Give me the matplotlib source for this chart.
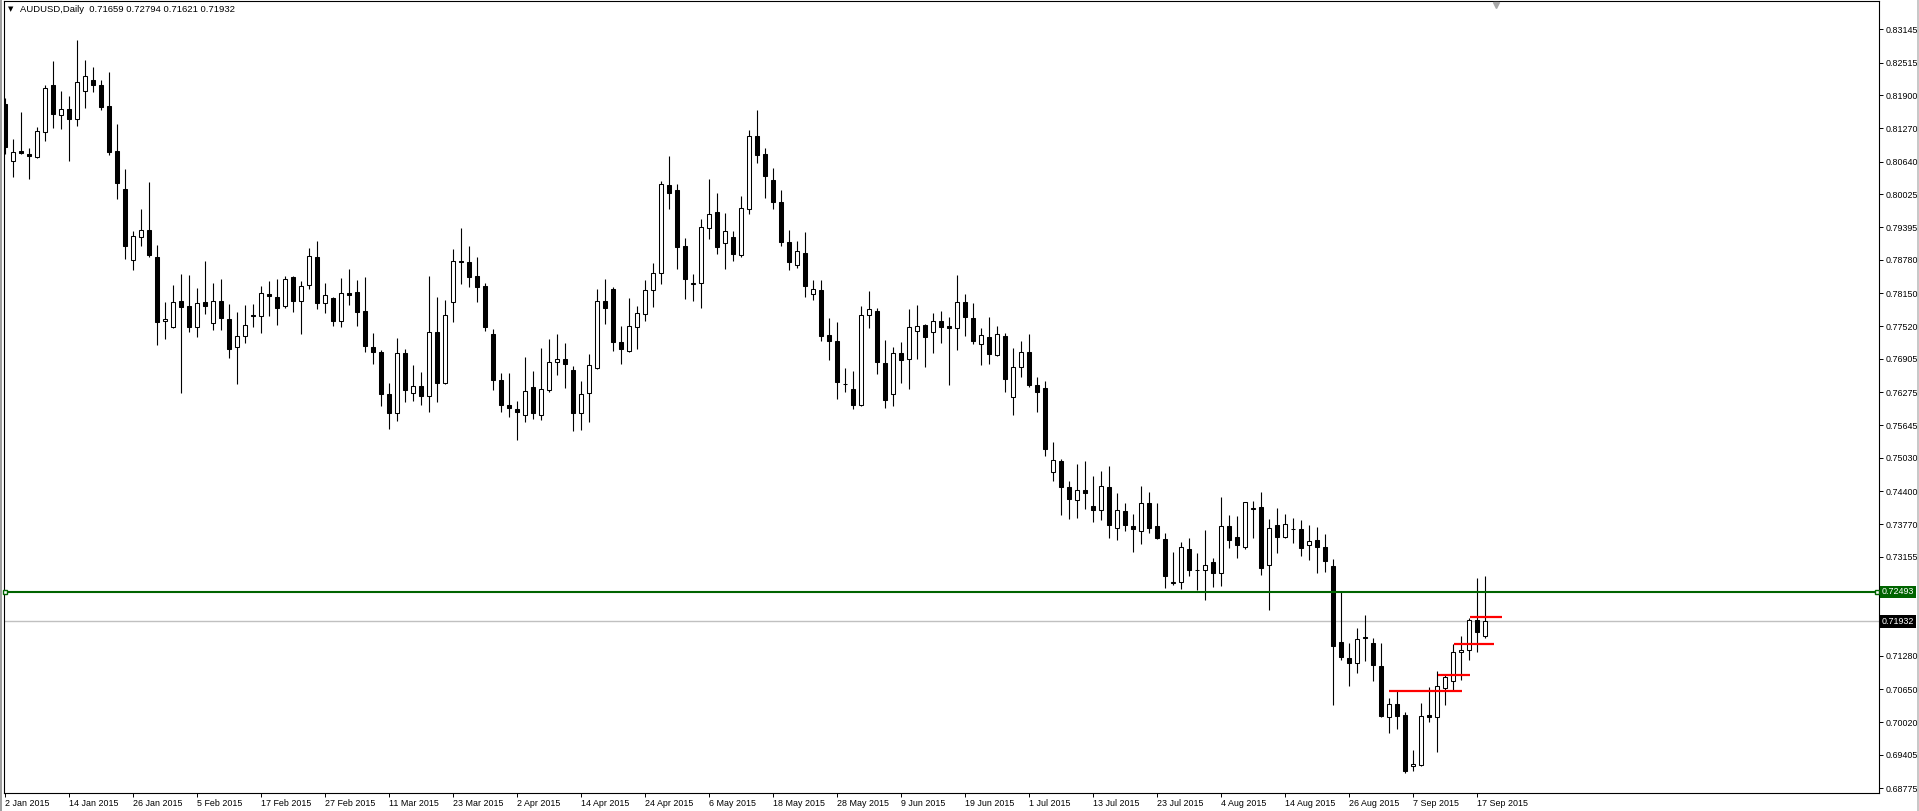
import matplotlib
matplotlib.use("Agg")
import matplotlib.pyplot as plt
from matplotlib.patches import Rectangle

plt.rcParams["font.family"] = ["Liberation Sans", "DejaVu Sans"]

# AUDUSD daily candles, 2 Jan 2015 .. 18 Sep 2015 (one value per trading day)
opens = [
    0.8173, 0.8065, 0.8084, 0.8079, 0.8073, 0.8121, 0.8209, 0.8153, 0.8163, 0.8145,
    0.8197, 0.8218, 0.8209, 0.8169, 0.8084, 0.8012, 0.7878, 0.7921, 0.7934, 0.7884,
    0.7762, 0.7751, 0.7800, 0.7791, 0.7750, 0.7798, 0.7758, 0.7800, 0.7766, 0.7712,
    0.7733, 0.7773, 0.7771, 0.7813, 0.7808, 0.7790, 0.7846, 0.7801, 0.7830, 0.7883,
    0.7797, 0.7806, 0.7763, 0.7815, 0.7817, 0.7781, 0.7713, 0.7704, 0.7624, 0.7587,
    0.7701, 0.7625, 0.7640, 0.7621, 0.7741, 0.7645, 0.7799, 0.7875, 0.7873, 0.7847,
    0.7828, 0.7737, 0.7650, 0.7604, 0.7595, 0.7584, 0.7637, 0.7584, 0.7631, 0.7684,
    0.7690, 0.7669, 0.7588, 0.7625, 0.7674, 0.7801, 0.7822, 0.7722, 0.7706, 0.7750,
    0.7775, 0.7820, 0.7854, 0.8020, 0.8010, 0.7904, 0.7832, 0.7834, 0.7938, 0.7968,
    0.7909, 0.7921, 0.7888, 0.7974, 0.8112, 0.8078, 0.8029, 0.7988, 0.7912, 0.7869,
    0.7891, 0.7814, 0.7821, 0.7735, 0.7724, 0.7642, 0.7633, 0.7604, 0.7773, 0.7781,
    0.7683, 0.7623, 0.7701, 0.7690, 0.7744, 0.7755, 0.7741, 0.7763, 0.7753, 0.7748,
    0.7798, 0.7767, 0.7719, 0.7732, 0.7697, 0.7734, 0.7619, 0.7676, 0.7703, 0.7641,
    0.7635, 0.7476, 0.7497, 0.7448, 0.7424, 0.7442, 0.7412, 0.7405, 0.7447, 0.7371,
    0.7402, 0.7374, 0.7364, 0.7418, 0.7373, 0.7349, 0.7266, 0.7267, 0.7330, 0.7290,
    0.7290, 0.7306, 0.7284, 0.7373, 0.7353, 0.7335, 0.7407, 0.7410, 0.7301, 0.7376,
    0.7354, 0.7368, 0.7369, 0.7337, 0.7347, 0.7334, 0.7298, 0.7155, 0.7124, 0.7114,
    0.7164, 0.7152, 0.7109, 0.7013, 0.7037, 0.7016, 0.6919, 0.6921, 0.7016, 0.7013,
    0.7068, 0.7080, 0.7135, 0.7140, 0.7195, 0.71659,
]
highs = [
    0.8184, 0.8107, 0.8158, 0.8090, 0.8130, 0.8209, 0.8255, 0.8198, 0.8188, 0.8294,
    0.8256, 0.8243, 0.8219, 0.8234, 0.8135, 0.8050, 0.7933, 0.7974, 0.8025, 0.7906,
    0.7798, 0.7830, 0.7851, 0.7849, 0.7825, 0.7876, 0.7834, 0.7842, 0.7795, 0.7779,
    0.7792, 0.7795, 0.7828, 0.7838, 0.7842, 0.7847, 0.7847, 0.7838, 0.7900, 0.7914,
    0.7834, 0.7808, 0.7844, 0.7861, 0.7840, 0.7846, 0.7739, 0.7707, 0.7645, 0.7730,
    0.7709, 0.7679, 0.7665, 0.7847, 0.7808, 0.7802, 0.7898, 0.7938, 0.7904, 0.7883,
    0.7834, 0.7747, 0.7664, 0.7664, 0.7611, 0.7694, 0.7667, 0.7711, 0.7728, 0.7738,
    0.7721, 0.7677, 0.7649, 0.7700, 0.7823, 0.7842, 0.7827, 0.7753, 0.7806, 0.7791,
    0.7840, 0.7872, 0.8027, 0.8075, 0.8022, 0.7919, 0.7851, 0.7955, 0.8031, 0.8005,
    0.7967, 0.7932, 0.7998, 0.8124, 0.8162, 0.8090, 0.8052, 0.8010, 0.7935, 0.7914,
    0.7931, 0.7840, 0.7840, 0.7768, 0.7760, 0.7673, 0.7667, 0.7791, 0.7819, 0.7787,
    0.7726, 0.7713, 0.7722, 0.7785, 0.7792, 0.7757, 0.7777, 0.7781, 0.7770, 0.7849,
    0.7813, 0.7796, 0.7749, 0.7770, 0.7753, 0.7739, 0.7711, 0.7724, 0.7737, 0.7656,
    0.7649, 0.7533, 0.7501, 0.7459, 0.7491, 0.7497, 0.7469, 0.7478, 0.7488, 0.7436,
    0.7418, 0.7397, 0.7450, 0.7438, 0.7418, 0.7361, 0.7325, 0.7344, 0.7352, 0.7323,
    0.7366, 0.7313, 0.7429, 0.7395, 0.7393, 0.7420, 0.7421, 0.7438, 0.7387, 0.7408,
    0.7397, 0.7389, 0.7385, 0.7376, 0.7372, 0.7359, 0.7311, 0.7249, 0.7152, 0.7181,
    0.7205, 0.7161, 0.7152, 0.7048, 0.7063, 0.7021, 0.6950, 0.7039, 0.7069, 0.7099,
    0.7092, 0.7150, 0.7166, 0.7200, 0.7276, 0.72794,
]
lows = [
    0.8078, 0.8034, 0.8079, 0.8032, 0.8070, 0.8104, 0.8128, 0.8126, 0.8066, 0.8132,
    0.8166, 0.8195, 0.8161, 0.8077, 0.7994, 0.7880, 0.7858, 0.7905, 0.7883, 0.7717,
    0.7729, 0.7748, 0.7625, 0.7742, 0.7732, 0.7776, 0.7746, 0.7746, 0.7693, 0.7642,
    0.7721, 0.7750, 0.7740, 0.7772, 0.7755, 0.7786, 0.7780, 0.7738, 0.7822, 0.7784,
    0.7778, 0.7753, 0.7750, 0.7793, 0.7753, 0.7704, 0.7681, 0.7602, 0.7558, 0.7572,
    0.7608, 0.7611, 0.7604, 0.7589, 0.7609, 0.7642, 0.7760, 0.7833, 0.7827, 0.7799,
    0.7744, 0.7632, 0.7589, 0.7581, 0.7537, 0.7570, 0.7577, 0.7575, 0.7628, 0.7659,
    0.7636, 0.7553, 0.7555, 0.7570, 0.7671, 0.7757, 0.7706, 0.7681, 0.7704, 0.7709,
    0.7762, 0.7789, 0.7833, 0.7974, 0.7861, 0.7803, 0.7800, 0.7786, 0.7918, 0.7890,
    0.7861, 0.7875, 0.7884, 0.7964, 0.8062, 0.7996, 0.7975, 0.7905, 0.7859, 0.7863,
    0.7808, 0.7802, 0.7725, 0.7689, 0.7615, 0.7628, 0.7596, 0.7602, 0.7749, 0.7662,
    0.7598, 0.7602, 0.7645, 0.7634, 0.7691, 0.7676, 0.7702, 0.7721, 0.7641, 0.7708,
    0.7734, 0.7719, 0.7678, 0.7681, 0.7695, 0.7628, 0.7585, 0.7657, 0.7638, 0.7589,
    0.7507, 0.7459, 0.7395, 0.7387, 0.7389, 0.7407, 0.7382, 0.7386, 0.7352, 0.7348,
    0.7365, 0.7325, 0.7339, 0.7360, 0.7350, 0.7257, 0.7263, 0.7255, 0.7280, 0.7253,
    0.7234, 0.7259, 0.7261, 0.7333, 0.7314, 0.7331, 0.7352, 0.7282, 0.7214, 0.7322,
    0.7352, 0.7342, 0.7317, 0.7310, 0.7284, 0.7286, 0.7034, 0.7121, 0.7070, 0.7096,
    0.7119, 0.7081, 0.7012, 0.6981, 0.6990, 0.6907, 0.6909, 0.6920, 0.7003, 0.6945,
    0.7034, 0.7062, 0.7083, 0.7121, 0.7136, 0.71621,
]
closes = [
    0.8091, 0.8082, 0.8080, 0.8075, 0.8122, 0.8203, 0.8155, 0.8163, 0.8145, 0.8214,
    0.8226, 0.8210, 0.8168, 0.8082, 0.8024, 0.7905, 0.7923, 0.7934, 0.7887, 0.7761,
    0.7766, 0.7799, 0.7789, 0.7750, 0.7796, 0.7791, 0.7801, 0.7768, 0.7710, 0.7733,
    0.7754, 0.7771, 0.7816, 0.7810, 0.7787, 0.7842, 0.7801, 0.7828, 0.7885, 0.7797,
    0.7811, 0.7763, 0.7815, 0.7812, 0.7780, 0.7714, 0.7704, 0.7623, 0.7587, 0.7701,
    0.7632, 0.7640, 0.7621, 0.7741, 0.7645, 0.7773, 0.7875, 0.7873, 0.7846, 0.7827,
    0.7751, 0.7651, 0.7604, 0.7598, 0.7590, 0.7629, 0.7587, 0.7633, 0.7684, 0.7691,
    0.7680, 0.7587, 0.7623, 0.7678, 0.7801, 0.7786, 0.7723, 0.7710, 0.7752, 0.7777,
    0.7820, 0.7854, 0.8021, 0.8005, 0.7903, 0.7842, 0.7835, 0.7941, 0.7964, 0.7903,
    0.7932, 0.7890, 0.7976, 0.8112, 0.8077, 0.8036, 0.7988, 0.7911, 0.7873, 0.7894,
    0.7829, 0.7822, 0.7733, 0.7725, 0.7647, 0.7643, 0.7604, 0.7773, 0.7784, 0.7685,
    0.7613, 0.7701, 0.7689, 0.7750, 0.7752, 0.7731, 0.7763, 0.7751, 0.7748, 0.7798,
    0.7770, 0.7725, 0.7735, 0.7700, 0.7737, 0.7653, 0.7676, 0.7703, 0.7641, 0.7628,
    0.7519, 0.7498, 0.7448, 0.7426, 0.7443, 0.7437, 0.7405, 0.7449, 0.7376, 0.7404,
    0.7376, 0.7369, 0.7418, 0.7371, 0.7352, 0.7280, 0.7268, 0.7334, 0.7291, 0.7291,
    0.7301, 0.7284, 0.7373, 0.7348, 0.7337, 0.7419, 0.7408, 0.7295, 0.7371, 0.7354,
    0.7377, 0.7368, 0.7333, 0.7345, 0.7335, 0.7308, 0.7147, 0.7126, 0.7115, 0.7159,
    0.7161, 0.7110, 0.7015, 0.7036, 0.7015, 0.6909, 0.6923, 0.7015, 0.7013, 0.7070,
    0.7087, 0.7135, 0.7140, 0.7195, 0.7174, 0.71932,
]

date_labels = [
    "2 Jan 2015", "14 Jan 2015", "26 Jan 2015", "5 Feb 2015", "17 Feb 2015",
    "27 Feb 2015", "11 Mar 2015", "23 Mar 2015", "2 Apr 2015", "14 Apr 2015",
    "24 Apr 2015", "6 May 2015", "18 May 2015", "28 May 2015", "9 Jun 2015",
    "19 Jun 2015", "1 Jul 2015", "13 Jul 2015", "23 Jul 2015", "4 Aug 2015",
    "14 Aug 2015", "26 Aug 2015", "7 Sep 2015", "17 Sep 2015",
]
price_ticks = [
    0.83145, 0.82515, 0.81900, 0.81270, 0.80640, 0.80025, 0.79395, 0.78780,
    0.78150, 0.77520, 0.76905, 0.76275, 0.75645, 0.75030, 0.74400, 0.73770,
    0.73155, 0.71280, 0.70650, 0.70020, 0.69405, 0.68775,
]
level_line = 0.72493
last_close = 0.71932
# red support segments: (price, first bar, last bar)
red_levels = [(0.70620, 172.95, 182.05), (0.70923, 179.1, 183.05),
              (0.71510, 181.1, 186.05), (0.72021, 183.1, 187.1)]

W, H = 1919, 811
fig = plt.figure(figsize=(W / 100, H / 100), dpi=100)
ax = fig.add_axes([4 / W, 18 / H, 1875 / W, 792 / H])

n = len(opens)
xs = list(range(n))
ax.vlines(xs, lows, highs, color="black", lw=0.8, zorder=1)
for i in xs:
    o, c = opens[i], closes[i]
    bull = c >= o
    ax.bar(i, abs(c - o), width=0.5, bottom=min(o, c),
           color="white" if bull else "black", edgecolor="black",
           linewidth=0.75, zorder=2)

ax.axhline(last_close, color="#c0c0c0", lw=1.0, zorder=0)
ax.axhline(level_line, color="#006400", lw=1.5, zorder=3)
ax.plot([0, 233.9], [level_line, level_line], ls="none", marker="s", ms=3.5,
        mfc="white", mec="#006400", mew=1, zorder=4, clip_on=False)
for p, x0, x1 in red_levels:
    ax.plot([x0, x1], [p, p], color="red", lw=1.6, zorder=3, solid_capstyle="butt")

ax.set_xlim(-0.1625, 234.2)
ax.set_ylim(0.686824, 0.836824)

ax.set_xticks(range(0, n, 8))
ax.set_xticklabels(date_labels, ha="left", fontsize=6.4)
ax.yaxis.tick_right()
ax.set_yticks(price_ticks)
ax.set_yticklabels([f"{p:.5f}" for p in price_ticks], fontsize=6.4)
ax.tick_params(axis="x", length=3, width=0.7, pad=1)
ax.tick_params(axis="y", length=3, width=0.7, pad=2)
for s in ax.spines.values():
    s.set_linewidth(0.8)

for val, bg in ((level_line, "#006400"), (last_close, "black")):
    ax.annotate(f"{val:.5f}", xy=(1, val), xycoords=("axes fraction", "data"),
                xytext=(2.2, 0), textcoords="offset points", va="center", ha="left",
                fontsize=6.4, color="white",
                bbox=dict(boxstyle="square,pad=0.18", fc=bg, ec="none"))

# chart shift marker
ax.plot([186.3], [0.8360], marker="v", color="#a8a8a8", ms=4.5, zorder=5)

fig.text(8 / W, 1 - 9 / H, "▼", fontsize=5, va="center", ha="left",
         family="DejaVu Sans")
fig.text(20 / W, 1 - 9 / H, "AUDUSD,Daily  0.71659 0.72794 0.71621 0.71932",
         fontsize=6.8, va="center", ha="left")

fig.add_artist(Rectangle((0, 0), 1.5 / W, 1, transform=fig.transFigure,
                         color="#a0a0a0", lw=0, zorder=-1))
fig.add_artist(Rectangle((1917 / W, 0), 2 / W, 1, transform=fig.transFigure,
                         color="#c8c8c8", lw=0, zorder=-1))

fig.savefig("out.png", dpi=100, facecolor="white")
